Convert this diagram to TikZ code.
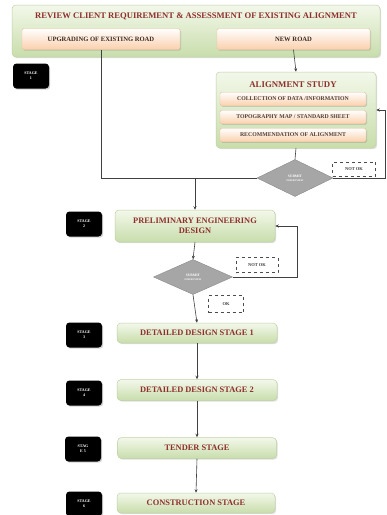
\documentclass[tikz,border=0pt]{standalone}
\usepackage{fontspec}
\setmainfont{Liberation Serif}
\usetikzlibrary{shapes.geometric,shadows,arrows.meta,calc}
\definecolor{txtred}{HTML}{8E2F2D}
\definecolor{subtxt}{HTML}{3B2A22}
\definecolor{grntop}{HTML}{F3F8EA}
\definecolor{grnbot}{HTML}{C8DDAB}
\definecolor{grnborder}{HTML}{BFD1A6}
\definecolor{peach}{HTML}{FAD0AC}
\definecolor{peachborder}{HTML}{EBC4A2}
\definecolor{dgrey}{HTML}{A6A6A6}
\definecolor{dgreyb}{HTML}{8A8A8A}
\begin{document}
\begin{tikzpicture}[x=1pt,y=-1pt,
  greenbox/.style={draw=grnborder, line width=0.5pt, rounded corners=4pt, top color=grntop, bottom color=grnbot,
    drop shadow={opacity=0.25, shadow xshift=1.2pt, shadow yshift=-1.2pt}, inner sep=0pt},
  peachbox/.style={draw=peachborder, line width=0.4pt, rounded corners=1.5pt, top color=white, bottom color=peach,
    drop shadow={opacity=0.3, shadow xshift=1pt, shadow yshift=-1pt}, inner sep=0pt,
    text=subtxt, font=\fontsize{6.6}{7}\selectfont\bfseries},
  subtext/.style={font=\fontsize{5.8}{6}\selectfont\bfseries, text=subtxt!90!white},
  maintext/.style={text=txtred, font=\fontsize{8.4}{9.5}\selectfont\bfseries, align=center},
  titletext/.style={text=txtred, font=\fontsize{8.6}{9}\selectfont\bfseries, inner sep=0pt},
  stagebox/.style={fill=black, rounded corners=3.5pt, text=white, align=center, inner sep=0pt,
    font=\fontsize{4}{5}\selectfont\bfseries, minimum width=36pt, minimum height=25pt,
    drop shadow={opacity=0.35, shadow xshift=1.2pt, shadow yshift=-1.2pt}},
  decision/.style={diamond, fill=dgrey, draw=dgreyb, line width=0.4pt, inner sep=0pt, align=center,
    text=white, font=\fontsize{3.6}{4.5}\selectfont\bfseries},
  tag/.style={draw=black!70, dashed, line width=0.6pt, fill=white, inner sep=0pt,
    text=black!75, font=\fontsize{4.5}{5}\selectfont\bfseries},
  conn/.style={draw=black!75, line width=0.6pt},
  arr/.style={conn, -{Stealth[length=3.5pt,width=3pt]}}
]
\useasboundingbox (0,0) rectangle (387,515);
\fill[white] (0,0) rectangle (387,515);

% top block
\node[greenbox, minimum width=368pt, minimum height=52pt] (top) at (196,31) {};
\node[titletext] (toptitle) at (196,16) {REVIEW CLIENT REQUIREMENT \& ASSESSMENT OF EXISTING ALIGNMENT};
\node[peachbox, minimum width=158pt, minimum height=21pt] (upg) at (101,39) {UPGRADING OF EXISTING ROAD};
\node[peachbox, minimum width=153pt, minimum height=21pt] (newroad) at (293.5,39) {NEW ROAD};

\node[stagebox] (s1) at (31,76) {STAGE\\1};

% alignment study
\node[greenbox, minimum width=160pt, minimum height=76pt] (align) at (296,110) {};
\node[titletext, font=\fontsize{8.8}{9}\selectfont\bfseries] (aligntitle) at (293,85) {ALIGNMENT STUDY};
\node[peachbox, subtext, minimum width=146pt, minimum height=13.5pt] (a1) at (293,99) {COLLECTION OF DATA /INFORMATION};
\node[peachbox, subtext, minimum width=146pt, minimum height=13.5pt] (a2) at (293,117) {TOPOGRAPHY MAP / STANDARD SHEET};
\node[peachbox, subtext, minimum width=146pt, minimum height=13.5pt] (a3) at (293,135) {RECOMMENDATION OF ALIGNMENT};

% decision 1
\node[decision, minimum width=76pt, minimum height=37pt] (d1) at (295,178) {SUBMIT\\[-0.5pt]{\fontsize{2.6}{3}\selectfont FOR REVIEW}};
\node[tag, minimum width=43pt, minimum height=14pt] (n1) at (354,169) {NOT OK};

% preliminary
\node[stagebox] (s2) at (84,224) {STAGE\\2};
\node[greenbox, maintext, minimum width=160pt, minimum height=32pt] (prelim) at (195,226) {PRELIMINARY ENGINEERING\\DESIGN};

% decision 2
\node[decision, minimum width=79pt, minimum height=35pt] (d2) at (193,277) {SUBMIT\\[-0.5pt]{\fontsize{2.6}{3}\selectfont FOR REVIEW}};
\node[tag, minimum width=42pt, minimum height=15pt] (n2) at (257,265) {NOT OK};
\node[tag, minimum width=35pt, minimum height=17pt] (ok) at (226,304) {OK};

% stages
\node[stagebox] (s3) at (84,335) {STAGE\\3};
\node[greenbox, maintext, minimum width=160pt, minimum height=20pt] (dd1) at (197,333) {DETAILED DESIGN STAGE 1};
\node[stagebox] (s4) at (84,393) {STAGE\\4};
\node[greenbox, maintext, minimum width=160pt, minimum height=21pt] (dd2) at (197,390) {DETAILED DESIGN STAGE 2};
\node[stagebox] (s5) at (83,449) {STAG\\E 5};
\node[greenbox, maintext, minimum width=159pt, minimum height=21pt] (tender) at (197,448) {TENDER STAGE};
\node[stagebox] (s6) at (84,504) {STAGE\\6};
\node[greenbox, maintext, minimum width=158pt, minimum height=20pt] (constr) at (196,503) {CONSTRUCTION STAGE};

% connectors
\coordinate (j1) at (prelim.north |- d1.west);
\coordinate (r1) at (385,178);
\coordinate (r2) at (297,277);
\draw[conn] (upg.south) |- (d1.west);
\draw[arr] (j1) -- (prelim.north);
\draw[arr] (newroad.south) -- (align.north);
\draw[conn] (align.south) -- (d1.north);
\draw[arr] (d1.east) -- (r1) |- (align.east);
\draw[arr] (prelim.south) -- (d2.north);
\draw[arr] (d2.east) -- (r2) |- (prelim.east);
\draw[arr] (d2.south) -- (dd1.north);
\draw[arr] (dd1.south) -- (dd2.north);
\draw[arr] (dd2.south) -- (tender.north);
\draw[arr] (tender.south) -- (constr.north);
\end{tikzpicture}
\end{document}
